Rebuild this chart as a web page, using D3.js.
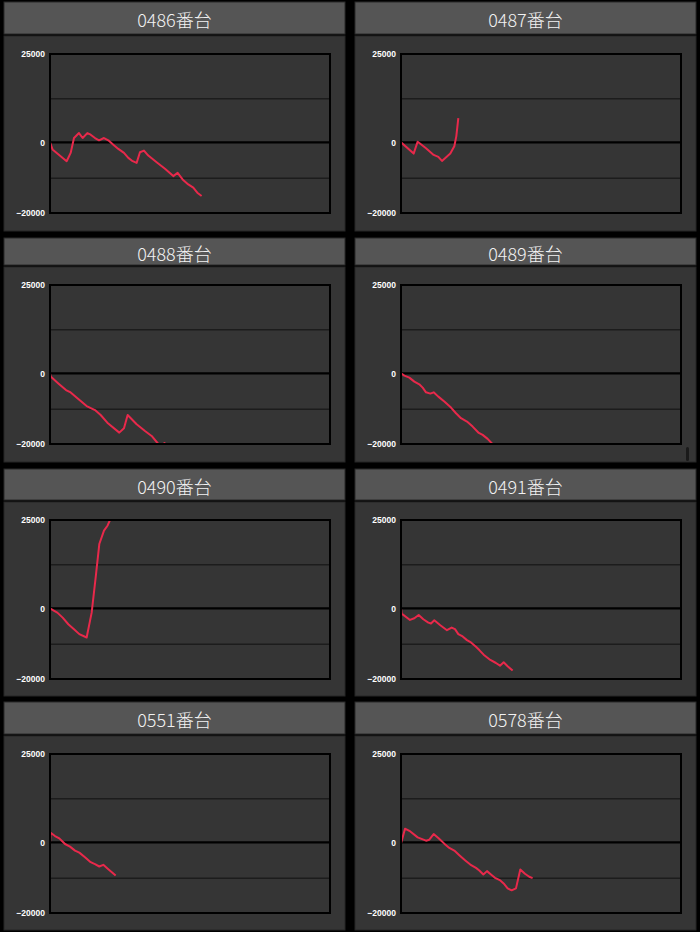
<!DOCTYPE html>
<html>
<head>
<meta charset="utf-8">
<script src="https://cdn.jsdelivr.net/npm/d3@7"></script>
<style>
  body { margin: 0; background: #000; }
</style>
</head>
<body>
<div id="chart"></div>
<script>
// machine titles
const titles = ["0486番台", "0487番台", "0488番台", "0489番台", "0490番台", "0491番台", "0551番台", "0578番台"];

// y axis ticks / gridlines
const tickLabels = [25000, 0, -20000];
const gridValues = [12500, -10000];

// game counts (x) and coin difference (y) for each machine
const games0486 = [0, 90, 595, 738, 857, 1035, 1166, 1333, 1452, 1607, 1750, 1928, 2083, 2261, 2440, 2642, 2797, 2952, 3094, 3213, 3356, 3510, 3808, 4106, 4403, 4558, 4736, 4938, 5117, 5260, 5415];
const diff0486  = [0, -2000, -5340, -3000, 1220, 2620, 1220, 2620, 2160, 1220, 560, 1220, 560, -660, -1870, -3000, -4400, -5340, -5810, -2810, -2340, -3750, -5620, -7500, -9560, -8620, -10500, -11900, -12840, -14250, -15180];

const games0487 = [0, 452, 595, 893, 1166, 1333, 1464, 1761, 1904, 1975, 2047];
const diff0487  = [0, -3190, 190, -1690, -3560, -4120, -5250, -3190, -1120, 1690, 6840];

const games0488 = [0, 24, 298, 571, 738, 1011, 1309, 1607, 1809, 2047, 2475, 2642, 2773, 3094, 3392, 3630, 3868, 4000, 4090, 4180];
const diff0488  = [0, -900, -2860, -4740, -5400, -7280, -9260, -10390, -11800, -13960, -16780, -15560, -11800, -14430, -16320, -17730, -20000, -20500, -19700, -21200];

const games0489 = [0, 119, 298, 476, 654, 774, 893, 1047, 1166, 1333, 1547, 1785, 1964, 2142, 2356, 2559, 2761, 2916, 3094, 3273, 3350];
const diff0489  = [0, -660, -1220, -2350, -3100, -4050, -5370, -5740, -5370, -6590, -8000, -9700, -11300, -12700, -13650, -15070, -16760, -17420, -18550, -20060, -20800];

const games0490 = [0, 119, 262, 452, 654, 857, 1047, 1309, 1488, 1642, 1761, 1928, 2059, 2142, 2170];
const diff0490  = [0, -560, -1220, -2630, -4500, -5900, -7300, -8250, -1220, 9560, 18200, 22000, 23450, 25000, 26000];

const games0491 = [0, 24, 321, 476, 631, 797, 976, 1071, 1190, 1404, 1642, 1809, 1928, 2047, 2202, 2356, 2499, 2678, 2797, 2952, 3190, 3392, 3535, 3666, 3808, 3987];
const diff0491  = [0, -1500, -3280, -2810, -1880, -3100, -4030, -4310, -3380, -4780, -6190, -5440, -5900, -7310, -7970, -9000, -9650, -10870, -11810, -13120, -14620, -15470, -16220, -15280, -16400, -17620];

const games0551 = [0, 24, 178, 333, 536, 714, 893, 1047, 1250, 1452, 1607, 1761, 1904, 2083, 2345];
const diff0551  = [0, 2720, 1780, 1120, -470, -1220, -2340, -2910, -4220, -5620, -6190, -6840, -6370, -7590, -9370];

const games0578 = [0, 143, 333, 595, 893, 1011, 1166, 1333, 1547, 1725, 1904, 2083, 2297, 2475, 2678, 2797, 2940, 3071, 3213, 3356, 3547, 3666, 3808, 3951, 4106, 4261, 4427, 4582, 4700];
const diff0578  = [-300, 3860, 3090, 1410, 470, 750, 2340, 1220, -370, -1590, -2340, -3650, -5150, -6280, -7220, -7970, -9090, -8150, -9090, -10030, -10780, -11620, -13030, -13590, -13030, -7690, -8900, -9750, -10120];

const series = [
  [games0486, diff0486], [games0487, diff0487],
  [games0488, diff0488], [games0489, diff0489],
  [games0490, diff0490], [games0491, diff0491],
  [games0551, diff0551], [games0578, diff0578]
];

// layout
const colLeft = [4, 355];
const rowTop = [2, 238, 469, 702];
const titleH = [32, 27, 31, 32];
const panelW = 341, chartH = 195;
const plot = {left: 46, top: 18, width: 280, height: 159};

const svg = d3.select("#chart")
  .append("svg")
    .attr("width", 700)
    .attr("height", 932)
    .style("display", "block");

svg.append("rect")
  .attr("width", 700).attr("height", 932).attr("fill", "#000");

const x = d3.scaleLinear().domain([0, 10000]).range([0, plot.width]);
const y = d3.scaleLinear().domain([-20000, 25000]).range([plot.height, 0]);

const line = d3.line()
  .x(d => x(d[0]))
  .y(d => y(d[1]));

titles.forEach(function(title, i) {
  const row = Math.floor(i / 2), col = i % 2;
  const px = colLeft[col], py = rowTop[row], th = titleH[row];

  const panel = svg.append("g")
    .attr("transform", `translate(${px},${py})`);

  // title bar
  panel.append("rect")
    .attr("width", panelW)
    .attr("height", th)
    .attr("fill", "#555")
    .attr("stroke", "#2a2a2a");
  panel.append("text")
    .attr("x", panelW / 2)
    .attr("y", th / 2 + 1)
    .attr("text-anchor", "middle")
    .attr("dominant-baseline", "central")
    .attr("font-family", "'Noto Sans CJK JP', 'Noto Sans', sans-serif")
    .attr("font-weight", 300)
    .attr("font-size", 18)
    .attr("fill", "#f2f2f2")
    .text(title);

  // chart area
  const cy = th + 2;
  panel.append("rect")
    .attr("y", cy)
    .attr("width", panelW)
    .attr("height", chartH - (row > 1 ? 1 : 0))
    .attr("fill", "#353535")
    .attr("stroke", "#262626");

  const g = panel.append("g")
    .attr("transform", `translate(${plot.left},${cy + plot.top})`);

  // gridlines
  g.append("g")
    .call(d3.axisLeft(y).tickValues(gridValues).tickSize(-plot.width).tickFormat(""))
    .call(a => a.select(".domain").remove())
    .selectAll("line")
      .attr("stroke", "#1c1c1c")
      .attr("stroke-width", 1.5);

  // zero line
  g.append("line")
    .attr("x1", 0).attr("x2", plot.width)
    .attr("y1", y(0)).attr("y2", y(0))
    .attr("stroke", "#000")
    .attr("stroke-width", 2.2);

  // tick labels
  g.append("g")
    .call(d3.axisLeft(y).tickValues(tickLabels).tickSize(0).tickPadding(5).tickFormat(d3.format("d")))
    .call(a => a.select(".domain").remove())
    .selectAll("text")
      .attr("fill", "#fff")
      .attr("font-family", "'Liberation Sans', Arial, sans-serif")
      .attr("font-weight", "bold")
      .attr("font-size", 8.5);

  // clip + line
  const clipId = "clip" + i;
  g.append("clipPath").attr("id", clipId)
    .append("rect")
      .attr("width", plot.width)
      .attr("height", plot.height);

  const [gx, gy] = series[i];
  g.append("path")
    .datum(gx.map((v, k) => [v, gy[k]]))
    .attr("clip-path", `url(#${clipId})`)
    .attr("fill", "none")
    .attr("stroke", "#e8294b")
    .attr("stroke-width", 2)
    .attr("stroke-linejoin", "round")
    .attr("d", line);

  // plot border
  g.append("rect")
    .attr("width", plot.width)
    .attr("height", plot.height)
    .attr("fill", "none")
    .attr("stroke", "#000")
    .attr("stroke-width", 2);

  // stray scrollbar in the 0489 panel
  if (i === 3) {
    panel.append("rect")
      .attr("x", 331).attr("y", cy + 180)
      .attr("width", 3).attr("height", 14)
      .attr("rx", 1.5)
      .attr("fill", "#1a1a1a");
  }
});
</script>
</body>
</html>
